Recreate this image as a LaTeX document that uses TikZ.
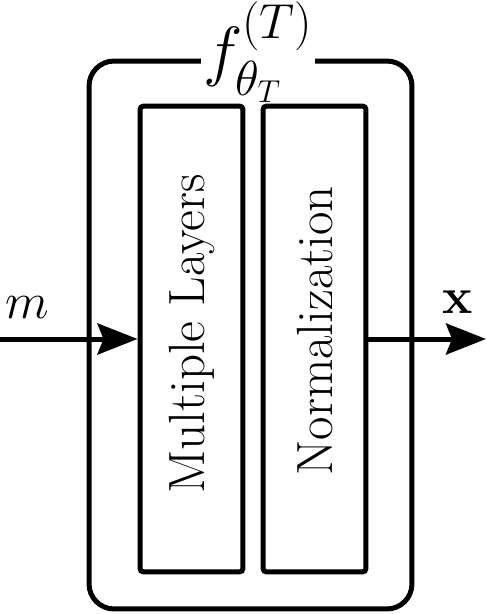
\RequirePackage{fix-cm}
\documentclass[tikz,border=0pt]{standalone}
\usepackage{amsmath,amssymb}
\usetikzlibrary{arrows.meta,positioning}
\DeclareMathSizes{38}{38}{28}{18}
\newcommand{\bigfont}{\fontsize{29}{35}\selectfont}
\newcommand{\titlefont}{\fontsize{38}{45}\selectfont}

\begin{document}
\begin{tikzpicture}[
    x=0.02cm, y=-0.02cm,
    >={Stealth[length=0.8cm, width=0.62cm, inset=0.12cm]},
    wrapper/.style={draw, line width=0.1cm, rounded corners=0.5cm, minimum width=6.46cm, minimum height=10.96cm},
    block/.style={draw, line width=0.1cm, rounded corners=2pt, minimum width=2.06cm, minimum height=9.32cm},
    blocktext/.style={rotate=90, font=\bigfont},
    arrow/.style={->, line width=0.1cm},
    sig/.style={font=\bigfont},
]
\useasboundingbox (0,0) rectangle (486,614);

% Outer function box and its title
\node[wrapper] (ftheta) at (250.5,335) {};
\node[font=\titlefont, fill=white, minimum width=2.06cm, inner sep=1pt] (ftitle) at (258,52) {$f_{\theta_T}^{(T)}$};

% Inner blocks
\node[block] (layers) at (191.5,339) {};
\node[block] (norm) at (314.5,339) {};
\node[blocktext] (layerstext) at (192,334) {Multiple Layers};
\node[blocktext] (normtext) at (315,331) {Normalization};

% Input/Output
\coordinate (in) at (0,339);
\coordinate (out) at (486,339);
\node[sig] (min) at (27,308) {$m$};
\node[sig] (xout) at (458,302) {$\mathbf{x}$};

% Arrows
\draw[arrow] (in) -- (layers.west);
\draw[arrow] (norm.east) -- (out);
\end{tikzpicture}
\end{document}
